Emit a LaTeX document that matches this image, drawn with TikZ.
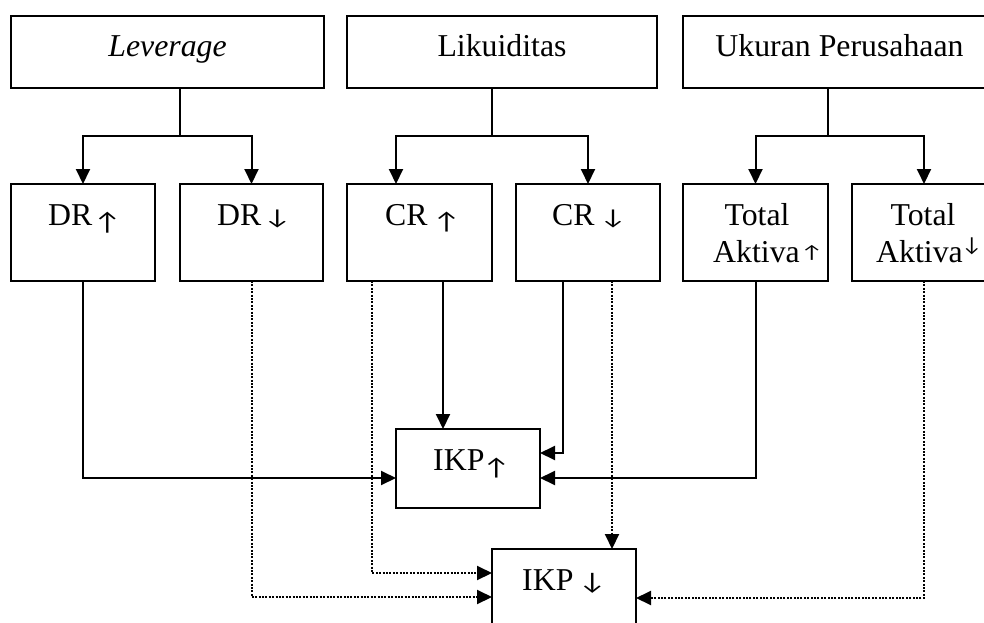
\documentclass[tikz,border=0pt]{standalone}
\usepackage{fontspec}
\usepackage{graphicx}
\setmainfont{Liberation Serif}
\newfontfamily\arrfont{Lato}
\usetikzlibrary{arrows.meta,calc}
% #1 width, #2 height, #3 bottom offset, #4 glyph
\newcommand\myarr[4]{\raisebox{#3}{\resizebox*{#1}{#2}{\raisebox{\depth}{\arrfont #4}}}}
\begin{document}
\begin{tikzpicture}[x=1pt,y=-1pt,
  box/.style={draw,line width=2pt,inner sep=0pt,outer sep=0pt,anchor=north west},
  txt/.style={anchor=base,inner sep=0pt,font=\fontsize{31.8}{38}\selectfont},
  ltxt/.style={txt,anchor=base west},
  conn/.style={line width=2pt,-{Triangle[length=15pt,width=14pt]}},
  dconn/.style={line width=2pt,dash pattern=on 2pt off 1.4pt,-{Triangle[length=15pt,width=14pt]}},
  plainline/.style={line width=2pt}]
\useasboundingbox (0,0) rectangle (984,623);
\clip (0,0) rectangle (984,623);

% top boxes
\node[box,minimum width=313pt,minimum height=72pt] (lev) at (11,16) {};
\node[box,minimum width=310pt,minimum height=72pt] (liq) at (347,16) {};
\node[box,minimum width=313pt,minimum height=72pt] (uk) at (683,16) {};
\node[txt] (levt) at (167.5,57) {\itshape Leverage};
\node[txt] (liqt) at (502,57) {Likuiditas};
\node[txt] (ukt) at (839.5,57) {Ukuran Perusahaan};

% second row
\node[box,minimum width=144pt,minimum height=97pt] (dru) at (11,184) {};
\node[box,minimum width=143pt,minimum height=97pt] (drd) at (180,184) {};
\node[box,minimum width=145pt,minimum height=97pt] (cru) at (347,184) {};
\node[box,minimum width=144pt,minimum height=97pt] (crd) at (516,184) {};
\node[box,minimum width=145pt,minimum height=97pt] (tau) at (683,184) {};
\node[box,minimum width=144pt,minimum height=97pt] (tad) at (852,184) {};
\node[ltxt] (drut) at (48,225) {DR\hspace{4pt}\myarr{22pt}{21pt}{-8pt}{↑}};
\node[ltxt] (drdt) at (217,225) {DR\hspace{5pt}\myarr{22pt}{18pt}{-3pt}{↓}};
\node[ltxt] (crut) at (385,225) {CR\hspace{8pt}\myarr{22pt}{20pt}{-7pt}{↑}};
\node[ltxt] (crdt) at (552,225) {CR\hspace{8pt}\myarr{21pt}{18pt}{-3pt}{↓}};
\node[txt] (taut1) at (757,225) {Total};
\node[ltxt] (taut2) at (713,262) {Aktiva\hspace{3pt}\myarr{18pt}{15pt}{2pt}{↑}};
\node[txt] (tadt1) at (923,225) {Total};
\node[ltxt] (tadt2) at (876,262) {Aktiva\hspace{1pt}\myarr{16pt}{17pt}{7pt}{↓}};

% bottom boxes
\node[box,minimum width=144pt,minimum height=79pt] (ikpu) at (396,429) {};
\node[box,minimum width=144pt,minimum height=79pt] (ikpd) at (492,549) {};
\node[ltxt] (ikput) at (433,470) {IKP\hspace{1pt}\myarr{22pt}{20pt}{-8pt}{↑}};
\node[ltxt] (ikpdt) at (522,590) {IKP\hspace{8pt}\myarr{22pt}{20pt}{-3pt}{↓}};

% branches
\coordinate (levj) at (180,136);
\coordinate (liqj) at (492,136);
\coordinate (ukj) at (828,136);
\draw[plainline] (lev.south -| levj) -- (levj);
\draw[plainline] (liq.south -| liqj) -- (liqj);
\draw[plainline] (uk.south -| ukj) -- (ukj);
\draw[conn] (levj) -| (dru.north);
\draw[conn] (levj) -| (drd.north);
\draw[conn] (liqj) -| ($(cru.north)+(-23.5,0)$);
\draw[conn] (liqj) -| (crd.north);
\draw[conn] (ukj) -| (tau.north);
\draw[conn] (ukj) -| (tad.north);

% to IKP
\draw[conn] (dru.south) |- ($(ikpu.west)+(0,9.5)$);
\draw[dconn] (drd.south) |- ($(ikpd.west)+(0,8.5)$);
\draw[dconn] ($(cru.south)+(-47.5,0)$) |- ($(ikpd.west)+(0,-15.5)$);
\coordinate (c1) at ($(cru.south)+(23.5,0)$);
\draw[conn] (c1) -- (c1 |- ikpu.north);
\draw[conn] ($(crd.south)+(-25,0)$) |- ($(ikpu.east)+(0,-15.5)$);
\coordinate (c2) at ($(crd.south)+(24,0)$);
\draw[dconn] (c2) -- (c2 |- ikpd.north);
\draw[conn] (tau.south) |- ($(ikpu.east)+(0,9.5)$);
\draw[dconn] (tad.south) |- ($(ikpd.east)+(0,9.5)$);
\end{tikzpicture}
\end{document}
